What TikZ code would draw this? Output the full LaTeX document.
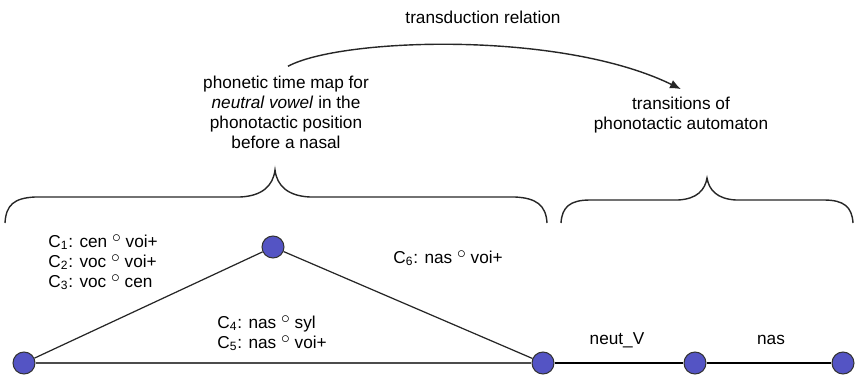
\documentclass[tikz,border=0pt]{standalone}
\usepackage{fontspec}
\setmainfont{Liberation Sans}
\usepackage{tikz}
\usetikzlibrary{arrows.meta}
\definecolor{statefill}{RGB}{84,84,196}
\tikzset{
  state/.style={circle, draw=black!80, fill=statefill, line width=0.6pt, minimum size=4.4mm, inner sep=0pt},
  trans/.style={line width=0.7pt, black!85},
  txt/.style={font=\fontsize{9.8}{11.4}\selectfont, align=center, inner sep=0pt},
  cond/.style={font=\fontsize{9.8}{11.4}\selectfont, align=left, anchor=west, inner sep=0pt},
  grp/.style={line width=0.8pt, black!85},
  relarrow/.style={-{Latex[length=2.2mm,width=1.8mm]}, line width=0.8pt, black!85}
}
\newcommand{\cmp}{ \raisebox{.55ex}{$\circ$} }

\begin{document}
\begin{tikzpicture}
\useasboundingbox (0,0) rectangle (17.12,7.52);
% ---- states ----
\node[state] (s1) at (0.48,0.26) {};
\node[state] (s2) at (5.46,2.58) {};
\node[state] (s3) at (10.86,0.26) {};
\node[state] (s4) at (13.90,0.26) {};
\node[state] (s5) at (16.86,0.26) {};
% ---- time map ----
\draw[trans] (s1) -- (s2);
\draw[trans] (s2) -- (s3);
\draw[trans, black!70, line width=1pt] (s1) -- (s3);
\node[cond] (c13) at (0.96,2.28) {C\textsubscript{1}: cen\cmp voi+\\C\textsubscript{2}: voc\cmp voi+\\C\textsubscript{3}: voc\cmp cen};
\node[cond] (c45) at (4.34,0.86) {C\textsubscript{4}: nas\cmp syl\\C\textsubscript{5}: nas\cmp voi+};
\node[cond] (c6) at (7.86,2.36) {C\textsubscript{6}: nas\cmp voi+};
% ---- automaton ----
\draw[trans, black, line width=1.3pt] (s3) -- (s4);
\draw[trans, black, line width=1.3pt] (s4) -- (s5);
\node[txt] (neut) at (12.34,0.72) {neut\_V};
\node[txt] (nas) at (15.42,0.72) {nas};
% ---- braces ----
\draw[grp] (0.10,3.06) .. controls (0.12,3.42) and (0.28,3.56) .. (0.70,3.58) -- (4.80,3.58)
  .. controls (5.24,3.60) and (5.46,3.80) .. (5.50,4.12)
  .. controls (5.54,3.80) and (5.76,3.60) .. (6.20,3.58) -- (10.30,3.58)
  .. controls (10.72,3.56) and (10.92,3.42) .. (10.94,3.06);
\draw[grp] (11.22,3.06) .. controls (11.24,3.38) and (11.40,3.52) .. (11.80,3.52) -- (13.56,3.52)
  .. controls (13.94,3.54) and (14.10,3.72) .. (14.14,3.96)
  .. controls (14.18,3.72) and (14.34,3.54) .. (14.72,3.52) -- (16.48,3.52)
  .. controls (16.88,3.52) and (17.04,3.38) .. (17.06,3.06);
\node[txt] (map) at (5.72,5.28) {phonetic time map for\\\textit{neutral vowel} in the\\phonotactic position\\before a nasal};
\node[txt] (auto) at (13.62,5.22) {transitions of\\phonotactic automaton};
% transduction between the two
\draw[relarrow] ([shift={(0.04,0.18)}]map.north) .. controls (6.80,6.76) and (11.20,6.92) .. ([yshift=1.5mm]auto.north);
\node[txt] (rel) at (9.66,7.18) {transduction relation};
\end{tikzpicture}
\end{document}
